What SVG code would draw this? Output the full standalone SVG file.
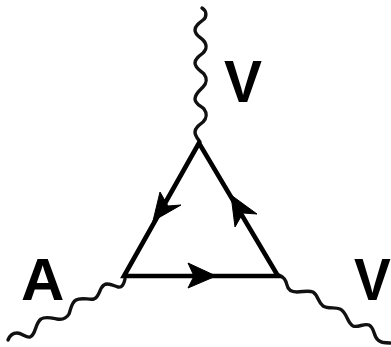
<svg xmlns="http://www.w3.org/2000/svg" width="391" height="347" viewBox="0 0 391 347">
<style>
.w{fill:none;stroke:#111;stroke-width:3.4;stroke-linecap:round;stroke-linejoin:round}
.l{fill:none;stroke:#000;stroke-width:4.6}
.a{fill:#000;stroke:#000;stroke-width:1;stroke-linejoin:round}
.t{font-family:"Liberation Sans",Arial,sans-serif;font-weight:700;font-size:60px;fill:#000}
</style>
<rect width="391" height="347" fill="#fff"/>
<g id="connectors">
<path class="w" d="M202 8C207 11 207 17 203 20C199 23 195 26 195 30C195 35 200 37 203 40C207 44 207 49 203 53C199 56 195 59 195 63C195 68 201 71 204 74C207 78 207 83 203 87C199 91 195 94 195 99C195 104 201 106 204 109C207 113 207 118 203 122C199 125 195 128 195 132C195 136 198 139 200 142"/>
<path class="w" d="M8 340C10 335 13 333 17 333C22 333 26 338 30 337C36 335 35 323 41 319C45 316 52 318 57 319C62 320 66 319 69 314C71 309 71 303 76 300C81 297 89 300 94 299C100 297 99 288 104 285C108 282 114 286 118 287C122 288 124 284 125 279"/>
<path class="w" d="M279 275C284 277 286 280 287 285C288 290 292 292 297 292C303 292 308 290 313 292C318 295 318 302 323 306C328 309 335 307 340 309C347 312 347 323 353 326C358 328 364 323 369 325C375 328 373 336 378 340C381 343 386 343 390 343"/>
<path class="l" d="M199 143L124 276H278Z"/>
</g>
<g id="arrow-left"><polygon class="a" points="153,221 160,192 168,206 181,205"/></g>
<g id="arrow-right"><polygon class="a" points="231,195 257,214 243,213 235,227"/></g>
<g id="arrow-bottom"><polygon class="a" points="216,276 188,263 194,276 188,288"/></g>
<g id="label-v-top"><text class="t" transform="translate(224 102) scale(.95 1)">V</text></g>
<g id="label-a"><text class="t" x="21" y="300">A</text></g>
<g id="label-v-right"><text class="t" transform="translate(354 300) scale(.92 1)">V</text></g>
</svg>
